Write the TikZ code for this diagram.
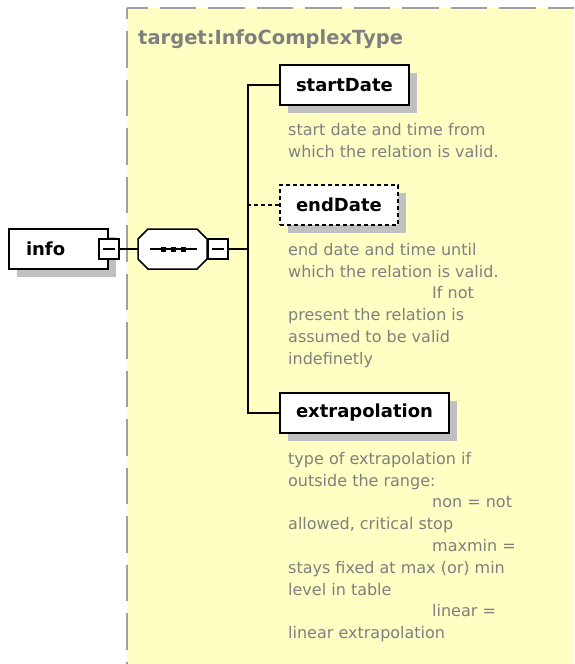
\documentclass[tikz,border=0pt]{standalone}
\usepackage{fontspec}
\setmainfont{DejaVu Sans}
\usetikzlibrary{positioning,shadows}
\definecolor{paleYellow}{HTML}{FFFFC4}
\definecolor{frameGray}{HTML}{A0A0A0}
\definecolor{noteGray}{HTML}{7F7F7F}
\definecolor{shadeGray}{HTML}{C0C0C0}

\begin{document}
\begin{tikzpicture}[x=1pt,y=-1pt,
    shade/.style={drop shadow={shadow xshift=8pt,shadow yshift=-8pt,opacity=1,fill=shadeGray}},
    elem/.style={draw,line width=2pt,fill=white,inner xsep=16pt,minimum height=40pt,
      font=\fontsize{18}{22}\selectfont\bfseries,shade},
    optelem/.style={elem,dash pattern=on 4pt off 3pt},
    fold/.style={draw,line width=1.5pt,fill=white,minimum size=20pt,inner sep=0pt,
      path picture={\draw[line width=1.5pt]
        ([xshift=-6pt]path picture bounding box.center) --
        ([xshift=6pt]path picture bounding box.center);}},
    link/.style={line width=1.5pt},
    note/.style={inner sep=0pt,align=left,text=noteGray,
      font=\fontsize{16}{21.8}\selectfont},
    frame/.style={draw=frameGray,line width=2pt,dash pattern=on 36.5pt off 12pt}]
  \useasboundingbox (0,0) rectangle (574,664);

  % complex type area
  \fill[paleYellow] (127,8) rectangle (574,664);
  \draw[frame,dash phase=16pt] (127,8) -- (574,8);
  \draw[frame,dash phase=25.5pt] (127,8) -- (127,664);
  \node[anchor=base west,inner sep=0pt,text=noteGray,
    font=\fontsize{19.5}{22}\selectfont\bfseries] (typeName) at (138,44)
    {target:InfoComplexType};

  % root element
  \node[elem,anchor=west,text width=65pt,inner xsep=17pt] (info) at (8,249) {info};
  \node[fold] (infoFold) at (info.east) {};

  % sequence compositor (octagon with its shadow)
  \node[minimum width=69pt,minimum height=40pt,inner sep=0pt,outer sep=0pt] (seq) at (172.5,249) {};
  \fill[shadeGray,shift={(8,8)}]
    ([xshift=10pt]seq.north west) -- ([xshift=-10pt]seq.north east) --
    ([yshift=-10pt]seq.north east) -- ([yshift=10pt]seq.south east) --
    ([xshift=-10pt]seq.south east) -- ([xshift=10pt]seq.south west) --
    ([yshift=10pt]seq.south west) -- ([yshift=-10pt]seq.north west) -- cycle;
  \draw[line width=1.5pt,fill=white]
    ([xshift=10pt]seq.north west) -- ([xshift=-10pt]seq.north east) --
    ([yshift=-10pt]seq.north east) -- ([yshift=10pt]seq.south east) --
    ([xshift=-10pt]seq.south east) -- ([xshift=10pt]seq.south west) --
    ([yshift=10pt]seq.south west) -- ([yshift=-10pt]seq.north west) -- cycle;
  \draw[line width=1.5pt] ([xshift=-22.5pt]seq.center) -- ([xshift=24.5pt]seq.center);
  \foreach \dx in {-10,0,10}
    \fill ([xshift=\dx pt]seq.center) +(-1.5,-2.5) rectangle +(3.5,2.5);
  \node[fold,right=0pt of seq] (seqFold) {};
  \coordinate (fork) at (248,249);

  % child elements
  \node[elem,anchor=west] (startDate) at (279,85) {startDate};
  \node[optelem,anchor=west] (endDate) at (279,205) {endDate};
  \node[elem,anchor=west] (extrap) at (279,413) {extrapolation};

  \node[note,below right=17pt and 9pt of startDate.south west] (startNote)
    {start date and time from\\which the relation is valid.};
  \node[note,below right=17pt and 9pt of endDate.south west] (endNote)
    {end date and time until\\which the relation is valid.\\
     \hspace*{144pt}If not\\present the relation is\\assumed to be valid\\indefinetly};
  \node[note,below right=18pt and 9pt of extrap.south west] (extrapNote)
    {type of extrapolation if\\outside the range:\\
     \hspace*{144pt}non = not\\allowed, critical stop\\
     \hspace*{144pt}maxmin =\\stays fixed at max (or) min\\level in table\\
     \hspace*{144pt}linear =\\linear extrapolation};

  % connectors
  \draw[link] (infoFold.east) -- (seq.west);
  \draw[link] (seqFold.east) -- (fork);
  \draw[link] (startDate.west) -| (fork) |- (extrap.west);
  \draw[link,dash pattern=on 4pt off 3pt] (endDate.west) -- (endDate.west -| fork);
\end{tikzpicture}
\end{document}
